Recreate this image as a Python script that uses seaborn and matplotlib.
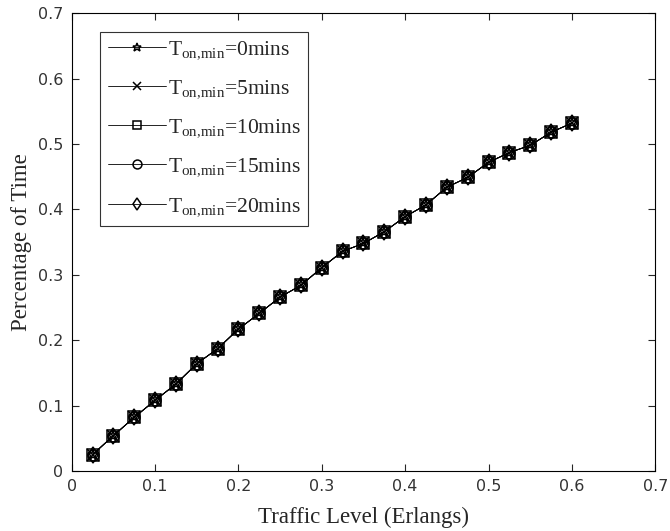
import numpy as np
import pandas as pd
import matplotlib
matplotlib.use('Agg')
import matplotlib.pyplot as plt
import seaborn as sns

# traffic level (Erlangs) and percentage of time
traffic = [0.025, 0.05, 0.075, 0.1, 0.125, 0.15, 0.175, 0.2, 0.225, 0.25, 0.275, 0.3,
           0.325, 0.35, 0.375, 0.4, 0.425, 0.45, 0.475, 0.5, 0.525, 0.55, 0.575, 0.6]
pct_time = [0.025, 0.054, 0.082, 0.108, 0.133, 0.164, 0.187, 0.217, 0.241, 0.266, 0.284, 0.311,
            0.336, 0.348, 0.366, 0.389, 0.407, 0.434, 0.449, 0.472, 0.487, 0.498, 0.518, 0.532]
t_on_min = [0, 5, 10, 15, 20]
markers = ['*', 'x', 's', 'o', 'd']
tick_labels = ['0', '0.1', '0.2', '0.3', '0.4', '0.5', '0.6', '0.7']

sns.set_style('white')
plt.rcParams['font.family'] = ['Liberation Serif', 'DejaVu Serif']
plt.rcParams['mathtext.fontset'] = 'custom'
plt.rcParams['mathtext.rm'] = 'Liberation Serif'

df = pd.DataFrame({'traffic': traffic, 'pct': pct_time})

fig = plt.figure(figsize=(6.7, 5.31), dpi=100)
ax = fig.add_axes([0.107, 0.113, 0.871, 0.862])

# all five curves coincide, draw each with its own marker
for t, m in zip(t_on_min, markers):
    sns.lineplot(data=df, x='traffic', y='pct', color='black', marker=m,
                 linewidth=0.6, markersize=8, markeredgewidth=1.1,
                 markerfacecolor='none', markeredgecolor='black',
                 label=r'T$_{\mathregular{on{,}min}}$=%dmins' % t, ax=ax)

ax.set_xlim(0, 0.7)
ax.set_ylim(0, 0.7)
ax.set_xticks(np.arange(0, 0.71, 0.1))
ax.set_yticks(np.arange(0, 0.71, 0.1))
ax.set_xticklabels(tick_labels, family='DejaVu Sans', fontsize=11.5, color='#333333')
ax.set_yticklabels(tick_labels, family='DejaVu Sans', fontsize=11.5, color='#333333')
ax.tick_params(direction='in', length=5, width=0.8, top=True, right=True,
               bottom=True, left=True, pad=6)
for s in ax.spines.values():
    s.set_color('black')
    s.set_linewidth(0.8)

ax.set_xlabel('Traffic Level (Erlangs)', fontsize=16.5, labelpad=9)
ax.set_ylabel('Percentage of Time', fontsize=16.5, labelpad=4)

leg = ax.legend(loc='upper left', bbox_to_anchor=(0.0485, 0.96), borderaxespad=0,
                fontsize=15.5, frameon=True, fancybox=False, edgecolor='black',
                handlelength=2.7, handletextpad=0.1, labelspacing=0.78,
                borderpad=0.35, markerscale=0.8)
leg.get_frame().set_linewidth(0.8)

fig.savefig('out.png', dpi=100)
